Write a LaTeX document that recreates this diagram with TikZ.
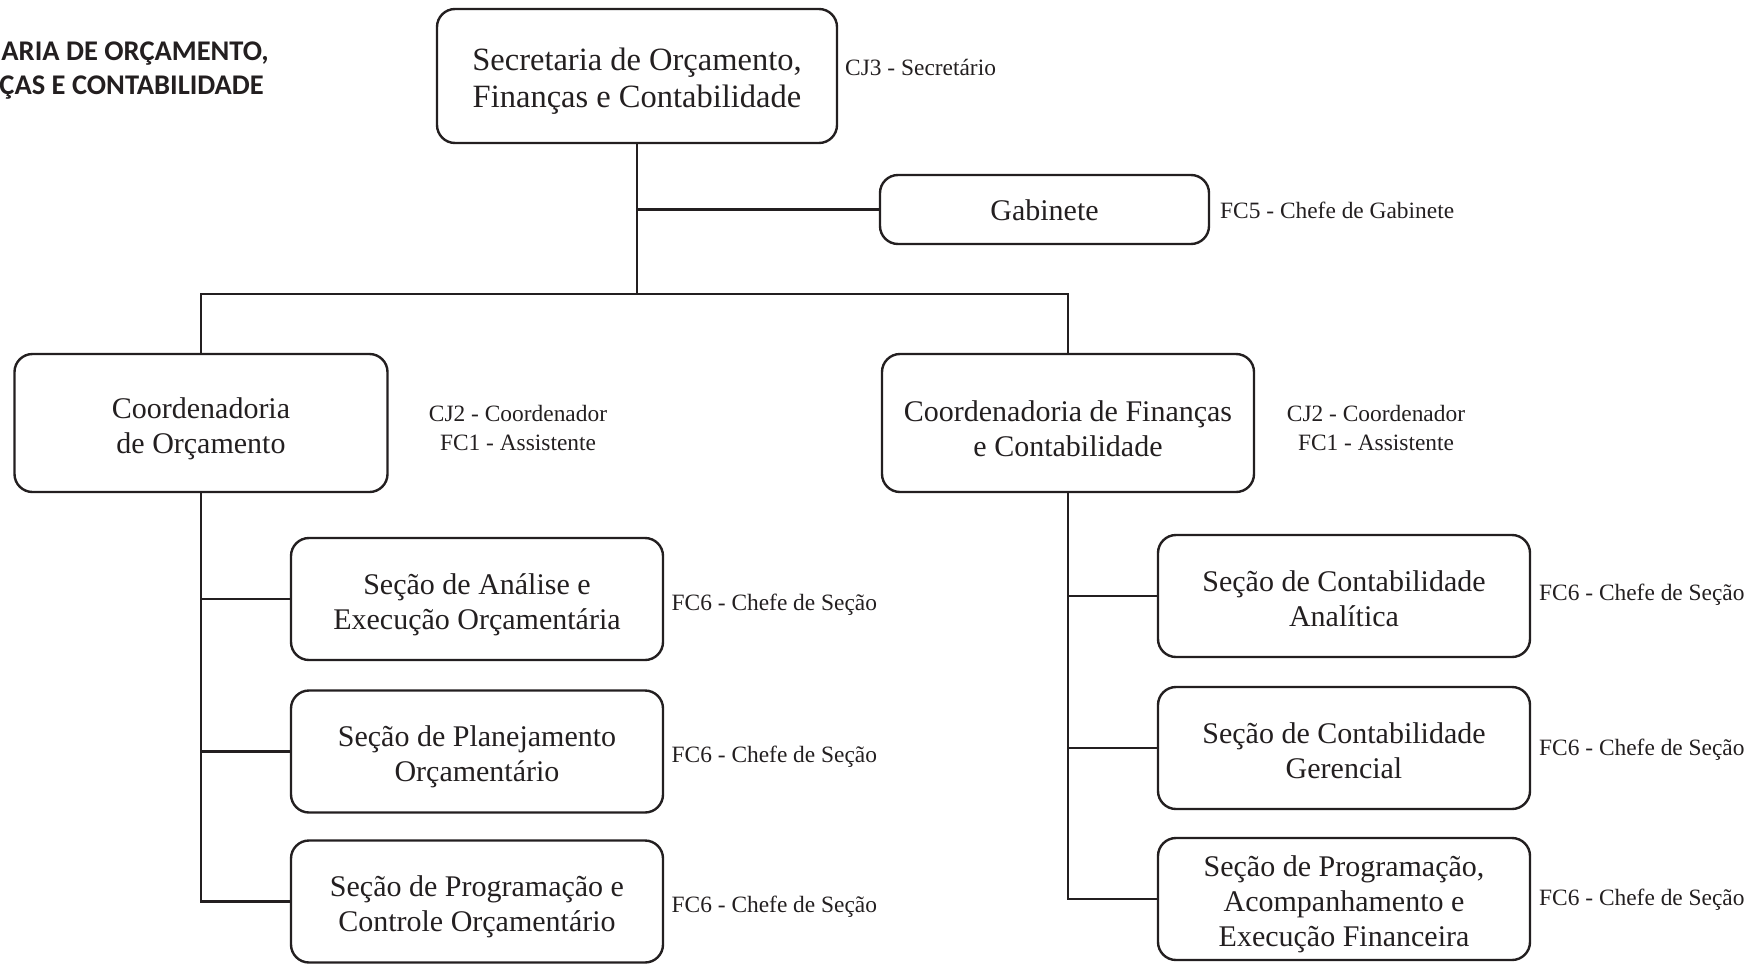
\documentclass[tikz,border=0pt]{standalone}
\usepackage{fontspec}
\setmainfont{Liberation Serif}
\newfontfamily\titlefont{Carlito}
\definecolor{ink}{HTML}{231F20}
\newcommand\tup[1]{\rule{0pt}{#1pt}}
\begin{document}
\begin{tikzpicture}[x=1pt,y=-1pt,
  box/.style={draw=ink,line width=2.4pt,rounded corners=18pt,align=center,inner sep=0pt,
    text=ink,font=\fontsize{30}{35}\selectfont,minimum width=372pt,minimum height=122pt},
  lbl/.style={text=ink,font=\fontsize{23.4}{29}\selectfont,inner sep=0pt},
  ttl/.style={anchor=east,inner sep=0pt,text=ink,font=\titlefont\bfseries\fontsize{28.5}{34}\selectfont},
  conn/.style={draw=ink,line width=2.4pt}]
\useasboundingbox (0,0) rectangle (1755,972);
% title (clipped at left edge)
\node[ttl] (t1) at (269,54) {ARIA DE ORÇAMENTO,};
\node[ttl] (t2) at (264,88) {ÇAS E CONTABILIDADE};
% nodes
\node[box,minimum width=400pt,minimum height=134pt,font=\fontsize{32.5}{37}\selectfont] (top) at (637,76) {\tup{32}Secretaria de Orçamento,\\Finanças e Contabilidade};
\node[box,minimum width=329pt,minimum height=69pt] (gab) at (1044.5,209.5) {\tup{23}Gabinete};
\node[box,minimum width=373pt,minimum height=138pt] (co) at (201,423) {\tup{32}Coordenadoria\\de Orçamento};
\node[box,minimum width=372pt,minimum height=138pt] (cf) at (1068,423) {\tup{32}Coordenadoria de Finanças\\e Contabilidade};
\node[box] (s1) at (477,599) {\tup{32}Seção de Análise e\\Execução Orçamentária};
\node[box] (s2) at (477,751.5) {\tup{32}Seção de Planejamento\\Orçamentário};
\node[box] (s3) at (477,901.5) {\tup{32}Seção de Programação e\\Controle Orçamentário};
\node[box] (r1) at (1344,596) {\tup{26}Seção de Contabilidade\\Analítica};
\node[box] (r2) at (1344,748) {\tup{27}Seção de Contabilidade\\Gerencial};
\node[box] (r3) at (1344,899) {\tup{32}Seção de Programação,\\Acompanhamento e\\Execução Financeira};
% labels
\node[lbl,anchor=west] (lt) at (845,67) {CJ3 - Secretário};
\node[lbl,anchor=west] (lg) at (1220,210.5) {FC5 - Chefe de Gabinete};
\node[lbl,align=center] (lco) at (518,428) {CJ2 - Coordenador\\FC1 - Assistente};
\node[lbl,align=center] (lcf) at (1376,428) {CJ2 - Coordenador\\FC1 - Assistente};
\node[lbl,anchor=west] (ls1) at (671.5,604.5) {FC6 - Chefe de Seção};
\node[lbl,anchor=west] (ls2) at (671.5,756.5) {FC6 - Chefe de Seção};
\node[lbl,anchor=west] (ls3) at (671.5,906.5) {FC6 - Chefe de Seção};
\node[lbl,anchor=west] (lr1) at (1539,594.5) {FC6 - Chefe de Seção};
\node[lbl,anchor=west] (lr2) at (1539,750) {FC6 - Chefe de Seção};
\node[lbl,anchor=west] (lr3) at (1539,900) {FC6 - Chefe de Seção};
% connectors
\coordinate (bus) at (637,294);
\draw[conn] (top.south) -- (bus);
\draw[conn] (top.south |- gab.west) -- (gab.west);
\draw[conn] (co.north) -- (co.north |- bus) -- (cf.north |- bus) -- (cf.north);
\draw[conn] (co.south) -- (co.south |- s3.west) -- (s3.west);
\draw[conn] (co.south |- s1.west) -- (s1.west);
\draw[conn] (co.south |- s2.west) -- (s2.west);
\draw[conn] (cf.south) -- (cf.south |- r3.west) -- (r3.west);
\draw[conn] (cf.south |- r1.west) -- (r1.west);
\draw[conn] (cf.south |- r2.west) -- (r2.west);
\end{tikzpicture}
\end{document}
